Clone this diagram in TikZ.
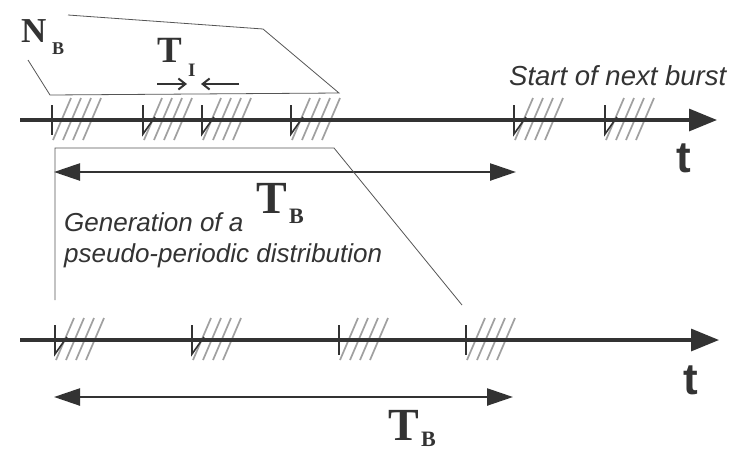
\documentclass[tikz,border=0pt]{standalone}
\usepackage{fontspec}
\setmainfont{Liberation Serif}
\setsansfont{Liberation Sans}
\usetikzlibrary{arrows.meta}
\definecolor{ink}{HTML}{333333}
\definecolor{hatchgray}{HTML}{A0A0A0}
\definecolor{thin}{HTML}{555555}
\newcommand\hatchband[2]{\foreach \d in {0,10,20,30}{\draw[hatchline] ({#1+1+\d},{#2+20}) -- ({#1+19+\d},{#2-22});}}
\newcommand\plaintick[2]{\draw[tickline] (#1,{#2-15}) -- (#1,{#2+15});}
\newcommand\hooktick[2]{\draw[tickline] (#1,{#2-15}) -- (#1,{#2+14}) -- ({#1+12},{#2-3});}
\begin{document}
\begin{tikzpicture}[x=1pt,y=-1pt,
  hatchline/.style={draw=hatchgray,line width=1.7pt},
  tickline/.style={draw=ink,line width=1.6pt},
  axisline/.style={draw=ink,line width=3.2pt,-{Triangle[length=28pt,width=22pt]}},
  spanline/.style={draw=ink,line width=2.4pt,{Triangle[length=26pt,width=17pt]}-{Triangle[length=26pt,width=17pt]}},
  funnel/.style={draw=thin,line width=0.8pt},
  gapline/.style={draw=ink,line width=2pt,-{Straight Barb[length=7pt,width=11pt]}},
  bigsym/.style={font=\fontsize{46}{46}\selectfont\bfseries,inner sep=0pt,anchor=base west,text=ink},
  subsym/.style={font=\fontsize{22}{22}\selectfont\bfseries,inner sep=0pt,anchor=base west,text=ink,text depth=0pt},
  tlabel/.style={font=\sffamily\bfseries\fontsize{44}{44}\selectfont,inner sep=0pt,anchor=base west,text=ink},
  note/.style={font=\sffamily\itshape\fontsize{26}{31}\selectfont,inner sep=0pt,anchor=base west,text=ink,align=left}]
\useasboundingbox (0,0) rectangle (733,451);
\fill[white] (0,0) rectangle (733,451);

% ---- top axis ----
\coordinate (A1s) at (20,120);
\coordinate (A1e) at (717,120);
\foreach \x in {52,143,202,291,514,605}{\hatchband{\x}{120}}
\draw[axisline] (A1s) -- (A1e);
\plaintick{52}{120}
\foreach \x in {143,202,291,514,605}{\hooktick{\x}{120}}
\node[tlabel] (t1) at (676,172) {t};

% N_B funnel
\coordinate (F1) at (28,60);
\coordinate (F2) at (50,95);
\coordinate (F3) at (339,93);
\coordinate (F4) at (263,29);
\coordinate (F5) at (68,15);
\draw[funnel] (F1) -- (F2) -- (F3) -- (F4) -- (F5);
\node[inner sep=0pt,anchor=base west,text=ink,font=\fontsize{35}{35}\selectfont\bfseries] (NBN) at (21,42) {N};
\node[inner sep=0pt,anchor=base west,text=ink,font=\fontsize{18}{18}\selectfont\bfseries] (NBB) at (52,54) {B};

% T_I
\node[inner sep=0pt,anchor=base west,text=ink,font=\fontsize{37}{37}\selectfont\bfseries] (TIT) at (157,62) {T};
\node[inner sep=0pt,anchor=base west,text=ink,font=\fontsize{19}{19}\selectfont\bfseries] (TII) at (188,76) {I};
\coordinate (G1s) at (157,84);
\coordinate (G1e) at (187,84);
\coordinate (G2s) at (239,84);
\coordinate (G2e) at (201,84);
\draw[gapline] (G1s) -- (G1e);
\draw[gapline] (G2s) -- (G2e);

\node[note,font=\sffamily\itshape\fontsize{27.5}{31}\selectfont] (start) at (509,85) {Start of next burst};

% T_B upper
\coordinate (B1l) at (54,172);
\coordinate (B1r) at (516,172);
\draw[spanline] (B1l) -- (B1r);
\node[bigsym] (TB1T) at (256,213) {T};
\node[subsym] (TB1B) at (289,223) {B};

% second funnel
\coordinate (H1) at (55,300);
\coordinate (H2) at (55,148);
\coordinate (H3) at (334,148);
\coordinate (H4) at (462,305);
\draw[funnel] (H1) -- (H2) -- (H3) -- (H4);

\node[note] (gen) at (64,262) {Generation of a\\pseudo-periodic distribution};

% ---- bottom axis ----
\coordinate (A2s) at (20,340);
\coordinate (A2e) at (719,340);
\foreach \x in {55,192,339,466}{\hatchband{\x}{340}}
\draw[axisline] (A2s) -- (A2e);
\hooktick{55}{340}
\hooktick{192}{340}
\plaintick{339}{340}
\plaintick{466}{340}
\node[tlabel] (t2) at (683,394) {t};

% T_B lower
\coordinate (B2l) at (54,397);
\coordinate (B2r) at (513,397);
\draw[spanline] (B2l) -- (B2r);
\node[bigsym] (TB2T) at (388,440) {T};
\node[subsym] (TB2B) at (421,446) {B};
\end{tikzpicture}
\end{document}
